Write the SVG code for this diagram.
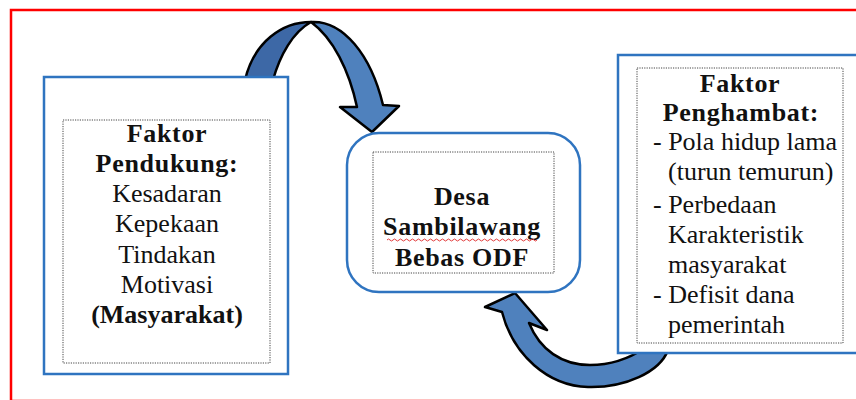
<svg xmlns="http://www.w3.org/2000/svg" width="856" height="400" viewBox="0 0 856 400">
  <style>
    .box { fill: #ffffff; stroke: #2f74c0; stroke-width: 2.5; }
    .dot { fill: none; stroke: #444; stroke-width: 1; stroke-dasharray: 1.2 1.2; }
    .t { font-family: "Liberation Serif", "Times New Roman", serif; font-size: 26px; fill: #111; }
    .b { font-weight: bold; letter-spacing: 0.7px; }
    .c { text-anchor: middle; }
    .arrowFill { fill: #4f81bd; stroke: #000; stroke-width: 2.5; stroke-linejoin: round; }
    .arrowDark { fill: #3d68a6; stroke: #000; stroke-width: 2.5; stroke-linejoin: round; }
  </style>
  <rect x="0" y="0" width="856" height="400" fill="#ffffff"/>
  <rect x="11" y="10" width="870" height="391" fill="none" stroke="#ff0000" stroke-width="2.5"/>

  <g id="connectors">
    <g id="arrow-top">
      <path class="arrowDark" d="M 245,80 C 254,42 282,22 311,22 C 293,32 280,55 273,80 Z"/>
      <path class="arrowFill" d="M 311,22 C 343,20 371,55 383,105 L 399,106 L 372,132 L 340,107 L 357,107 C 349,70 333,38 311,22 Z"/>
    </g>
    <g id="arrow-bottom">
      <path class="arrowFill" d="M 515,293 L 547,330 L 529,323 C 540,350 562,365 590,365 C 612,365 630,358 645,348 L 668,350 C 660,372 625,388 588,387 C 548,386 513,355 502,312 L 485,307 Z"/>
    </g>
  </g>

  <g id="node-pendukung">
    <rect class="box" x="44" y="77" width="244" height="297"/>
    <rect class="dot" x="63" y="120" width="207" height="243"/>
    <text class="t b c" x="167" y="142">Faktor</text>
    <text class="t b c" x="167" y="172">Pendukung:</text>
    <text class="t c" x="167" y="202">Kesadaran</text>
    <text class="t c" x="167" y="232">Kepekaan</text>
    <text class="t c" x="167" y="263">Tindakan</text>
    <text class="t c" x="167" y="293">Motivasi</text>
    <text class="t b c" x="167" y="323" style="letter-spacing:0px">(Masyarakat)</text>
  </g>

  <g id="node-desa">
    <rect class="box" x="347" y="133" width="233" height="159" rx="32" ry="32"/>
    <rect class="dot" x="373" y="152" width="181" height="121"/>
    <text class="t b c" x="462" y="205">Desa</text>
    <text class="t b c" x="462" y="235">Sambilawang</text>
    <path d="M 387,240 q 1.5,-2 3,0 t 3,0 t 3,0 t 3,0 t 3,0 t 3,0 t 3,0 t 3,0 t 3,0 t 3,0 t 3,0 t 3,0 t 3,0 t 3,0 t 3,0 t 3,0 t 3,0 t 3,0 t 3,0 t 3,0 t 3,0 t 3,0 t 3,0 t 3,0 t 3,0 t 3,0 t 3,0 t 3,0 t 3,0 t 3,0 t 3,0 t 3,0 t 3,0 t 3,0 t 3,0 t 3,0 t 3,0 t 3,0 t 3,0 t 3,0 t 3,0 t 3,0 t 3,0 t 3,0 t 3,0 t 3,0 t 3,0 t 3,0 t 3,0 t 3,0" fill="none" stroke="#e23a3a" stroke-width="1"/>
    <text class="t b c" x="462" y="266">Bebas ODF</text>
  </g>

  <g id="node-penghambat">
    <rect class="box" x="618" y="55" width="260" height="298"/>
    <rect class="dot" x="637" y="68" width="206" height="275"/>
    <text class="t b c" x="740" y="92">Faktor</text>
    <text class="t b c" x="741" y="121">Penghambat:</text>
    <text class="t" x="653" y="150">- Pola hidup lama</text>
    <text class="t" x="668" y="180">(turun temurun)</text>
    <text class="t" x="653" y="213">- Perbedaan</text>
    <text class="t" x="668" y="243">Karakteristik</text>
    <text class="t" x="668" y="273">masyarakat</text>
    <text class="t" x="653" y="303">- Defisit dana</text>
    <text class="t" x="668" y="333">pemerintah</text>
  </g>
</svg>
